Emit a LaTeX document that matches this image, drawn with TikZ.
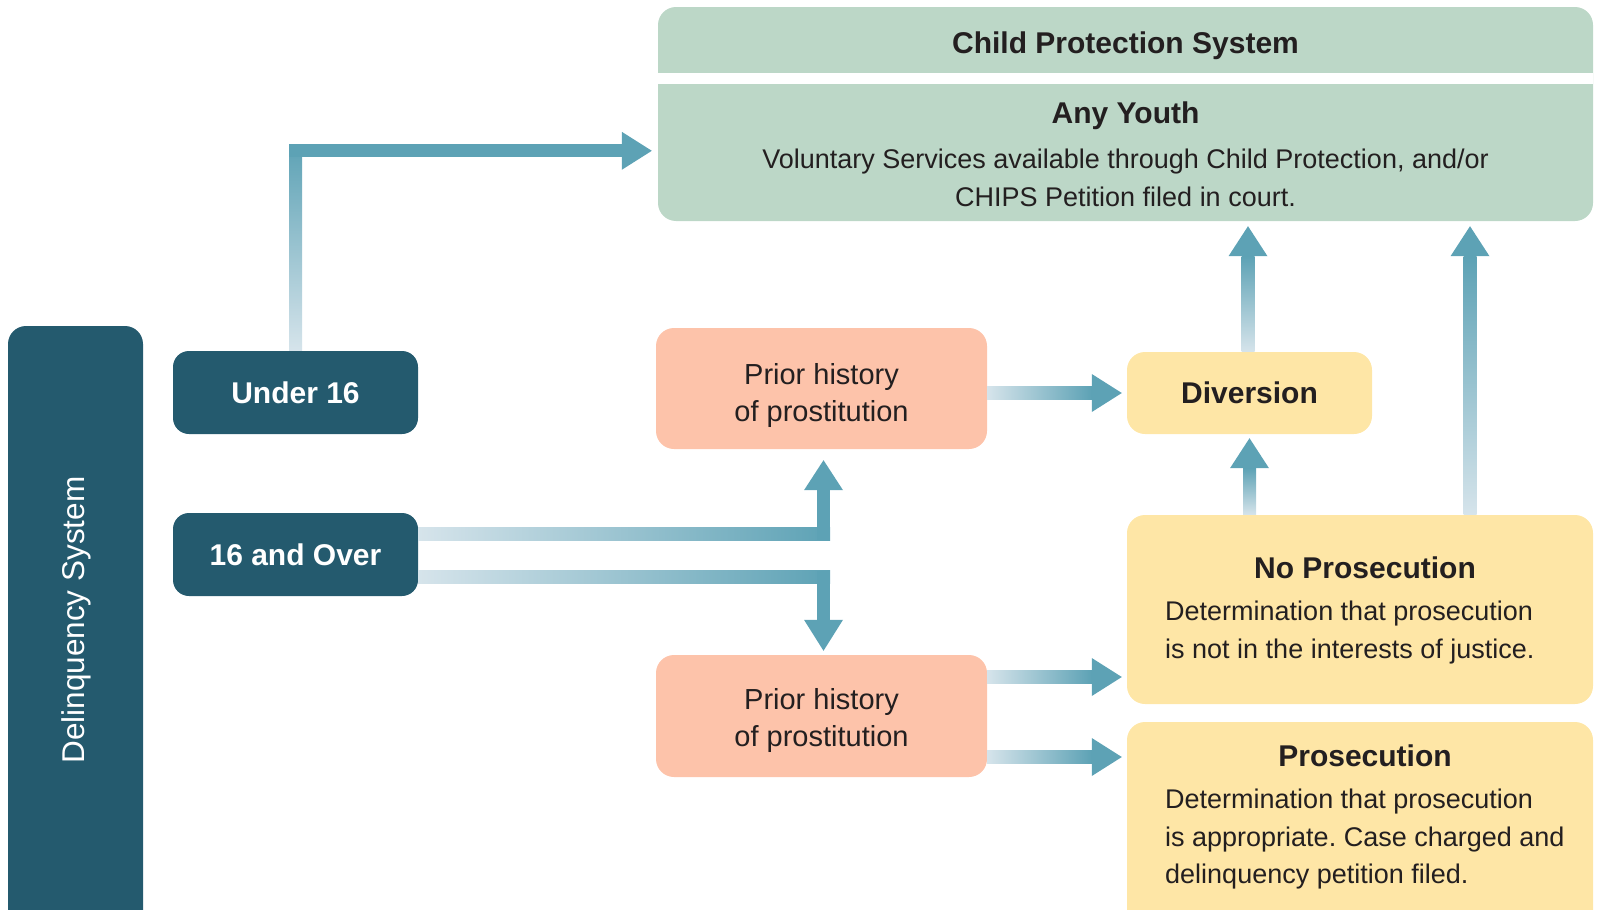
\documentclass[tikz,border=0pt]{standalone}
\usepackage{fontspec}
\setmainfont{Liberation Sans}
\usetikzlibrary{calc}
\frenchspacing
\definecolor{dark}{HTML}{245A6E}
\definecolor{cpsgreen}{HTML}{BCD7C7}
\definecolor{salmon}{HTML}{FDC3AA}
\definecolor{ylw}{HTML}{FEE6A6}
\definecolor{acol}{HTML}{5DA2B5}
\definecolor{alight}{HTML}{D6E4EB}
\definecolor{txt}{HTML}{231F20}
\tikzset{
  basebox/.style={inner sep=0pt, rounded corners=18pt},
  darkbox/.style={basebox, fill=dark, text=white, font=\bfseries\fontsize{30}{36}\selectfont},
  priorbox/.style={basebox, fill=salmon},
  yelbox/.style={basebox, fill=ylw},
  titletext/.style={inner sep=0pt, text=txt, font=\bfseries\fontsize{30}{36}\selectfont},
  bodytext/.style={inner sep=0pt, text=txt, font=\fontsize{27}{37.5}\selectfont},
  priortext/.style={inner sep=0pt, text=txt, align=center, font=\fontsize{29}{37}\selectfont},
  head/.style={fill=acol},
}
\begin{document}
\begin{tikzpicture}[x=1pt,y=-1pt]
\useasboundingbox (0,0) rectangle (1598,910);
\clip (0,0) rectangle (1598,910);

% ---------- boxes ----------
\node[basebox, fill=dark, minimum width=135pt, minimum height=640pt] (delin) at (75.5,646) {};
\node[inner sep=0pt, text=white, rotate=90, font=\fontsize{31.5}{36}\selectfont] (delintext) at (76,620) {Delinquency System};

\node[darkbox, minimum width=245pt, minimum height=83pt, rounded corners=16pt] (u16) at (295.5,392.5) {Under 16};
\node[darkbox, minimum width=245pt, minimum height=83pt, rounded corners=16pt] (o16) at (295.5,554.5) {16 and Over};

\node[basebox, fill=cpsgreen, minimum width=935pt, minimum height=214pt] (cps) at (1125.5,114) {};
\fill[white] (cps.west |- 0,73) rectangle (cps.east |- 0,84);
\node[titletext] (cpstitle) at (1125.5,46) {Child Protection System};
\node[titletext] (anyyouth) at (1125.5,116) {Any Youth};
\node[bodytext, align=center] (cpsdesc) at (1125.5,178) {Voluntary Services available through Child Protection, and/or\\CHIPS Petition filed in court.};

\node[priorbox, minimum width=331pt, minimum height=121pt] (p1) at (821.5,388.5) {};
\node[priortext] (p1text) at (821.5,395.5) {Prior history\\of prostitution};
\node[priorbox, minimum width=331pt, minimum height=122pt] (p2) at (821.5,716) {};
\node[priortext] (p2text) at (821.5,720.5) {Prior history\\of prostitution};

\node[yelbox, minimum width=245pt, minimum height=82pt, titletext] (dv) at (1249.5,393) {Diversion};

\node[yelbox, minimum width=466pt, minimum height=189pt] (np) at (1360,609.5) {};
\node[titletext] (nptitle) at (1365,568) {No Prosecution};
\node[bodytext, align=left, anchor=west] (npdesc) at (1165,632.5) {Determination that prosecution\\is not in the interests of justice.};

\node[yelbox, minimum width=466pt, minimum height=230pt] (pr) at (1360,837) {};
\node[titletext] (prtitle) at (1365,756) {Prosecution};
\node[bodytext, align=left, anchor=west] (prdesc) at (1165,839.5) {Determination that prosecution\\is appropriate. Case charged and\\delinquency petition filed.};

% ---------- arrows ----------
% Under 16 -> Child Protection
\coordinate (c1) at ($(u16.north)+(0,-200)$);
\shade[bottom color=alight, top color=acol] ($(u16.north)+(-6.5,0)$) rectangle ($(c1)+(6.5,-6.5)$);
\fill[acol] ($(c1)+(-6.5,-6.5)$) rectangle ($(cps.west |- c1)+(-36,6.5)$);
\fill[head] ($(cps.west |- c1)+(-36,-19)$) -- ($(cps.west |- c1)+(-6,0)$) -- ($(cps.west |- c1)+(-36,19)$) -- cycle;

% 16 and Over -> Prior history (upper)
\coordinate (c2) at ($(o16.east)+(0,-21)$);
\coordinate (c2b) at ($(p1.south |- c2)+(2,0)$);
\shade[left color=alight, right color=acol] ($(c2)+(0,-6.5)$) rectangle ($(c2b)+(6.5,6.5)$);
\fill[acol] ($(c2b)+(-6.5,6.5)$) rectangle ($(c2b |- p1.south)+(6.5,41)$);
\fill[head] ($(c2b |- p1.south)+(-19.5,41)$) -- ($(c2b |- p1.south)+(0,11)$) -- ($(c2b |- p1.south)+(19.5,41)$) -- cycle;

% 16 and Over -> Prior history (lower)
\coordinate (c3) at ($(o16.east)+(0,22.5)$);
\coordinate (c3b) at ($(p2.north |- c3)+(2,0)$);
\shade[left color=alight, right color=acol] ($(c3)+(0,-6.5)$) rectangle ($(c3b)+(6.5,6.5)$);
\fill[acol] ($(c3b)+(-6.5,-6.5)$) rectangle ($(c3b |- p2.north)+(6.5,-35)$);
\fill[head] ($(c3b |- p2.north)+(-19.5,-35)$) -- ($(c3b |- p2.north)+(0,-4)$) -- ($(c3b |- p2.north)+(19.5,-35)$) -- cycle;

% Prior (upper) -> Diversion
\shade[left color=alight, right color=acol] ($(p1.east |- dv.west)+(0,-6.5)$) rectangle ($(dv.west)+(-35,6.5)$);
\fill[head] ($(dv.west)+(-35,-19)$) -- ($(dv.west)+(-5,0)$) -- ($(dv.west)+(-35,19)$) -- cycle;

% Prior (lower) -> No Prosecution
\coordinate (c5) at ($(p2.east)+(0,-39)$);
\shade[left color=alight, right color=acol] ($(c5)+(0,-6.5)$) rectangle ($(np.west |- c5)+(-35,6.5)$);
\fill[head] ($(np.west |- c5)+(-35,-19)$) -- ($(np.west |- c5)+(-5,0)$) -- ($(np.west |- c5)+(-35,19)$) -- cycle;

% Prior (lower) -> Prosecution
\coordinate (c6) at ($(p2.east)+(0,41)$);
\shade[left color=alight, right color=acol] ($(c6)+(0,-6.5)$) rectangle ($(pr.west |- c6)+(-35,6.5)$);
\fill[head] ($(pr.west |- c6)+(-35,-19)$) -- ($(pr.west |- c6)+(-5,0)$) -- ($(pr.west |- c6)+(-35,19)$) -- cycle;

% No Prosecution -> Diversion
\shade[bottom color=alight, top color=acol] ($(dv.south |- np.north)+(-6.5,0)$) rectangle ($(dv.south)+(6.5,34)$);
\fill[head] ($(dv.south)+(-19.5,34)$) -- ($(dv.south)+(0,4)$) -- ($(dv.south)+(19.5,34)$) -- cycle;

% Diversion -> Child Protection
\coordinate (c8) at ($(dv.north)+(-1.5,0)$);
\shade[bottom color=alight, top color=acol] ($(c8)+(-6.5,0)$) rectangle ($(c8 |- cps.south)+(6.5,35)$);
\fill[head] ($(c8 |- cps.south)+(-19.5,35)$) -- ($(c8 |- cps.south)+(0,5)$) -- ($(c8 |- cps.south)+(19.5,35)$) -- cycle;

% No Prosecution -> Child Protection
\coordinate (c9) at ($(np.north)+(110,0)$);
\shade[bottom color=alight, top color=acol] ($(c9)+(-6.5,0)$) rectangle ($(c9 |- cps.south)+(6.5,35)$);
\fill[head] ($(c9 |- cps.south)+(-19.5,35)$) -- ($(c9 |- cps.south)+(0,5)$) -- ($(c9 |- cps.south)+(19.5,35)$) -- cycle;
\end{tikzpicture}
\end{document}
